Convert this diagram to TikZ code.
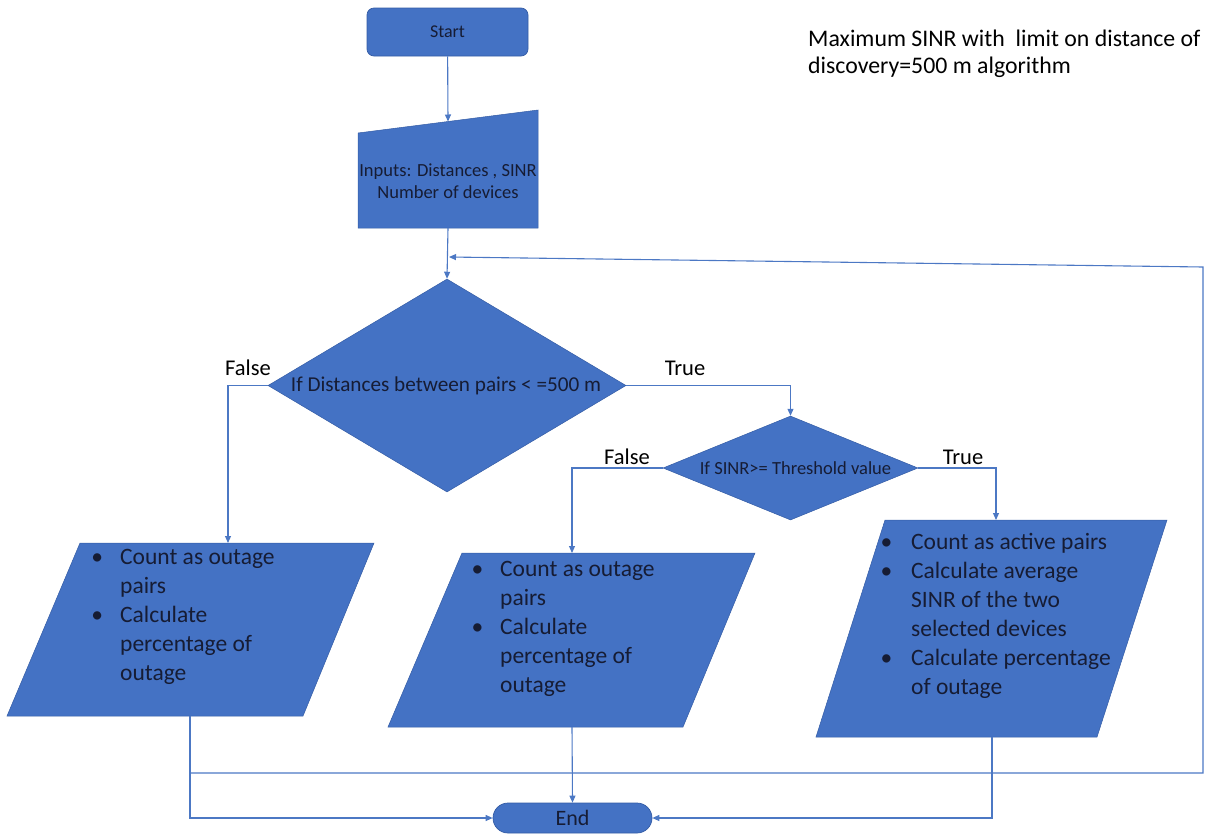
\documentclass[tikz,border=0pt]{standalone}
\usepackage{fontspec}
\setmainfont{Carlito}
\usetikzlibrary{shapes.geometric,arrows.meta,positioning}
\definecolor{flowBlue}{RGB}{68,114,196}
\definecolor{flowEdge}{RGB}{52,92,165}
\definecolor{flowText}{RGB}{22,28,52}
\definecolor{lineBlue}{RGB}{76,120,196}

\begin{document}
\begin{tikzpicture}
[x=1pt,y=-1pt,
  termDecorate/.style={shape=rectangle,rounded corners=7pt,fill=flowBlue,draw=flowEdge,line width=0.7pt,inner sep=0pt,text=flowText,font=\fontsize{18}{22}\selectfont},%
  decisionDecorate/.style={shape=diamond,fill=flowBlue,draw=flowEdge,line width=0.5pt,inner sep=0pt},%
  ioDecorate/.style={fill=flowBlue,draw=flowEdge,line width=0.5pt},%
  textDecorate/.style={text=flowText,inner sep=0pt},%
  bulletDecorate/.style={textDecorate,anchor=base west,align=left,font=\fontsize{23.5}{29}\selectfont},%
  branchDecorate/.style={font=\fontsize{22.5}{27}\selectfont,inner sep=0pt},%
  lineDecorate/.style={draw=lineBlue,line width=1.1pt,-{Triangle[length=7pt,width=6pt]}}]
\useasboundingbox (0,0) rectangle (1208,836);
%% terminals
\node (start) at (447.5,32) [termDecorate,minimum width=161pt,minimum height=48pt] {Start};
\node (end) at (572.5,818) [termDecorate,rounded corners=15pt,minimum width=159pt,minimum height=30pt,font=\fontsize{22}{26}\selectfont] {End};
%% manual input
\path[ioDecorate] (358,133) -- (538,110) -- (538,228) -- (358,228) -- cycle;
\coordinate (inTop) at (448,121.5);
\coordinate (inBottom) at (448,228);
\node (inputs) at (448,181) [textDecorate,align=center,font=\fontsize{18.5}{22}\selectfont] {Inputs: Distances , SINR\\Number of devices};
%% decisions
\node (dist) at (447,385.5) [decisionDecorate,minimum width=358pt,minimum height=213pt] {};
\node (distText) at ([xshift=-1pt]dist) [textDecorate,font=\fontsize{21.2}{25}\selectfont] {If Distances between pairs < =500 m};
\node (sinr) at (790.5,468) [decisionDecorate,minimum width=255pt,minimum height=104pt] {};
\node (sinrText) at ([xshift=5pt]sinr) [textDecorate,font=\fontsize{18.5}{22}\selectfont] {If SINR>= Threshold value};
%% outputs (parallelograms)
\foreach \name/\ax/\bx/\cx/\dx/\ty/\by/\tx/\bxx in {
  p1/80/374/303/7/543/716/228/190, p2/462/755/683/388/553/727/572/572,
  p3/885/1167/1097/816/520/737/996/992}
{
  \path[ioDecorate] (\ax,\ty) -- (\bx,\ty) -- (\cx,\by) -- (\dx,\by) -- cycle;
  \coordinate (\name Top) at (\tx,\ty);
  \coordinate (\name Bottom) at (\bxx,\by);
}
%% base of a multi-line node is its last line
\node (p1Text) at (120,680) [bulletDecorate] {\llap{\textbullet\hspace{17pt}}Count as outage\\pairs\\\llap{\textbullet\hspace{17pt}}Calculate\\percentage of\\outage};
\node (p2Text) at (500,692) [bulletDecorate] {\llap{\textbullet\hspace{17pt}}Count as outage\\pairs\\\llap{\textbullet\hspace{17pt}}Calculate\\percentage of\\outage};
\node (p3Text) at (911,694) [bulletDecorate] {\llap{\textbullet\hspace{19pt}}Count as active pairs\\\llap{\textbullet\hspace{19pt}}Calculate average\\SINR of the two\\selected devices\\\llap{\textbullet\hspace{19pt}}Calculate percentage\\of outage};
%% branch labels
\node (distFalse) at (248,368) [branchDecorate] {False};
\node (distTrue) at (685,368) [branchDecorate] {True};
\node (sinrFalse) at (627,457) [branchDecorate] {False};
\node (sinrTrue) at (963,457) [branchDecorate] {True};
%% title
\node (title) at (808,53.5) [anchor=west,align=left,inner sep=0pt,font=\fontsize{23.8}{27}\selectfont] {Maximum SINR with\ \ limit on distance of\\discovery=500 m algorithm};
%% connectors
\coordinate (loopStart) at (190,773);
\coordinate (loopRight) at (1203,773);
\coordinate (loopTop) at (1203,267);
\coordinate (loopIn) at (449,257);
\draw[lineDecorate] (start) -- (inTop);
\draw[lineDecorate] (inBottom) -- (dist.north);
\draw[lineDecorate] (dist.west) -| (p1Top);
\draw[lineDecorate] (dist.east) -| (sinr.north);
\draw[lineDecorate] (sinr.west) -| (p2Top);
\draw[lineDecorate] (sinr.east) -| (p3Top);
\draw[lineDecorate] (p1Bottom) |- (end.west);
\draw[lineDecorate] (p2Bottom) -- (end.north);
\draw[lineDecorate] (p3Bottom) |- (end.east);
\draw[lineDecorate] (loopStart) -- (loopRight) -- (loopTop) -- (loopIn);
\end{tikzpicture}
\end{document}
